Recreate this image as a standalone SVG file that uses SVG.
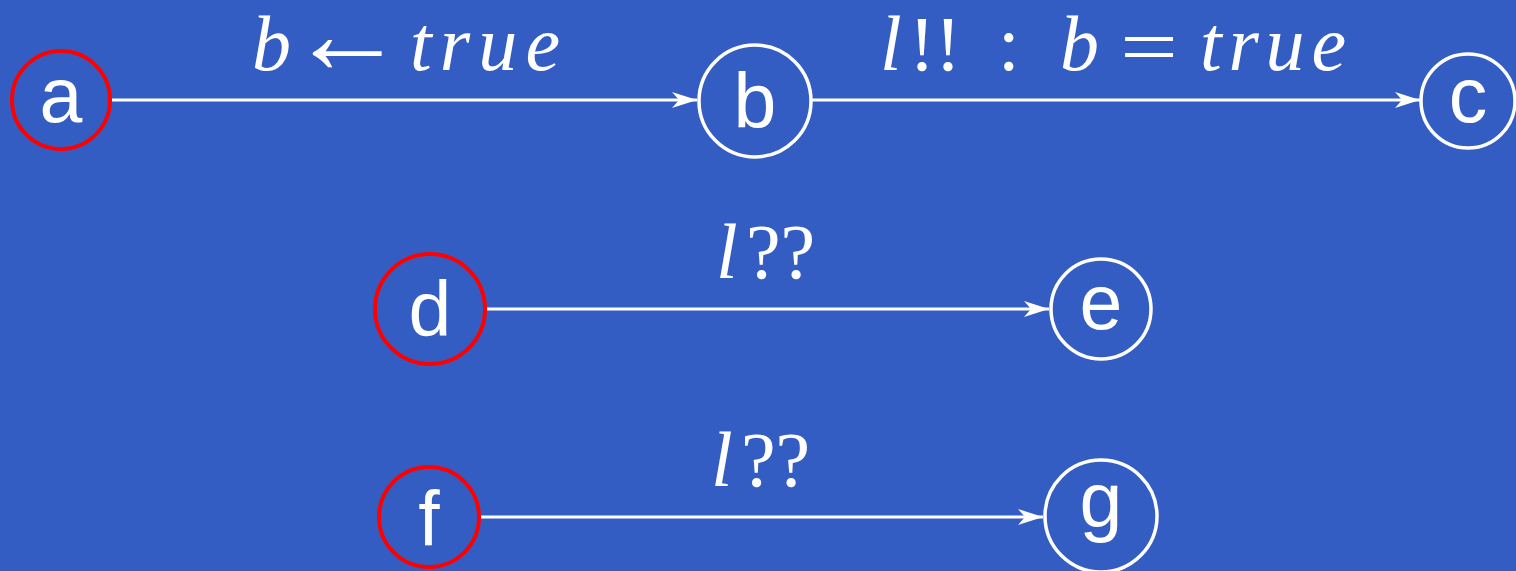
<svg xmlns="http://www.w3.org/2000/svg" width="1516" height="571" viewBox="0 0 1516 571">
<style>
.bg{fill:#345dc4}
.start{fill:none;stroke:#f00;stroke-width:4}
.st{fill:none;stroke:#fff;stroke-width:3.5}
.lbl{font-family:"Liberation Sans",Arial,sans-serif;font-size:77px;fill:#fff;text-anchor:middle}
.edge{stroke:#fff;stroke-width:3;fill:none}
.m{font-family:"Liberation Serif","Times New Roman",serif;font-size:78px;fill:#fff}
.mi{font-style:italic}
.big{font-size:116px}
</style>
<defs>
<marker id="ah" markerUnits="userSpaceOnUse" markerWidth="26" markerHeight="18" refX="25" refY="9" orient="auto">
<path d="M0,1 L25,9 L0,17 L7,9 Z" fill="#fff"/>
</marker>
</defs>
<rect class="bg" x="0" y="0" width="1516" height="571"/>
<g id="connectors">
<line class="edge" x1="111" y1="100" x2="697" y2="100" marker-end="url(#ah)"/>
<line class="edge" x1="812" y1="100" x2="1420" y2="100" marker-end="url(#ah)"/>
<line class="edge" x1="487" y1="309" x2="1049" y2="309" marker-end="url(#ah)"/>
<line class="edge" x1="481" y1="517" x2="1043" y2="517" marker-end="url(#ah)"/>
<text class="m"><tspan class="mi" x="252" y="70">b</tspan><tspan class="mi" x="410" y="70" textLength="150" lengthAdjust="spacing">true</tspan></text>
<text class="m big" x="289" y="73">←</text>
<text class="m"><tspan class="mi" x="880" y="70">l</tspan><tspan x="909" y="70">!!</tspan><tspan x="998" y="70">:</tspan><tspan class="mi" x="1060" y="70">b</tspan><tspan class="mi" x="1200" y="70" textLength="146" lengthAdjust="spacing">true</tspan></text>
<text class="m" x="1120" y="73" textLength="58" lengthAdjust="spacingAndGlyphs">=</text>
<text class="m"><tspan class="mi" x="716" y="278">l</tspan><tspan x="746" y="278">??</tspan></text>
<text class="m"><tspan class="mi" x="711" y="486">l</tspan><tspan x="741" y="486">??</tspan></text>
</g>
<g id="node-a"><circle class="start" cx="61" cy="100" r="49"/><text class="lbl" x="61" y="122">a</text></g>
<g id="node-b"><circle class="st" cx="755" cy="101" r="56"/><text class="lbl" x="755" y="128">b</text></g>
<g id="node-c"><circle class="st" cx="1468" cy="101" r="47"/><text class="lbl" x="1468" y="122">c</text></g>
<g id="node-d"><circle class="start" cx="430" cy="309" r="55"/><text class="lbl" x="430" y="336">d</text></g>
<g id="node-e"><circle class="st" cx="1101" cy="309" r="50"/><text class="lbl" x="1101" y="329">e</text></g>
<g id="node-f"><circle class="start" cx="429" cy="517" r="50"/><text class="lbl" x="429" y="546">f</text></g>
<g id="node-g"><circle class="st" cx="1101" cy="516" r="56"/><text class="lbl" x="1101" y="527">g</text></g>
</svg>
